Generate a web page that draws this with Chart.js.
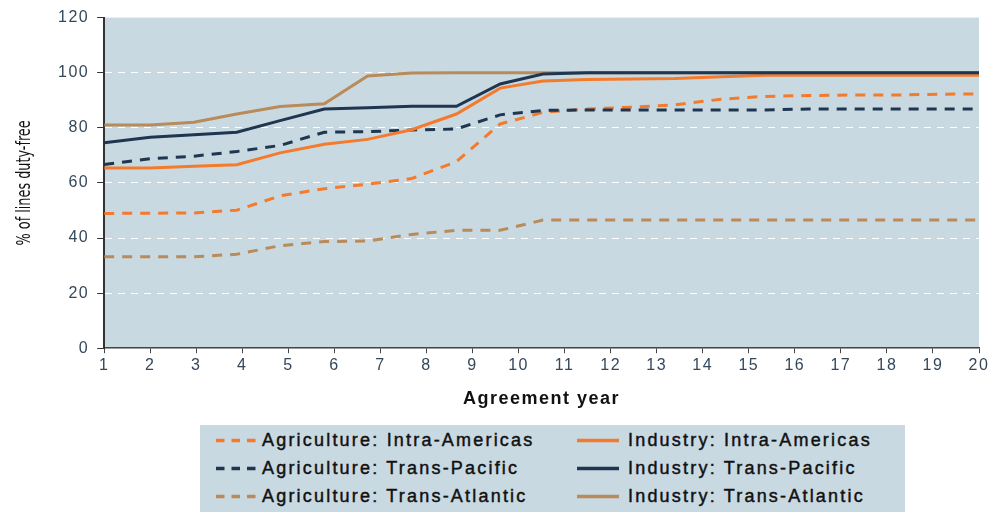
<!DOCTYPE html>
<html>
<head>
<meta charset="utf-8">
<script src="https://cdn.jsdelivr.net/npm/chart.js@4"></script>
<style>
  html, body { margin: 0; padding: 0; background: #fff; }
  #wrap { position: relative; width: 995px; height: 512px; overflow: hidden; }
  #chart { position: absolute; left: 0; top: 0; }
  #legend {
    position: absolute; left: 200px; top: 425px; width: 705px; height: 87px;
    background: #c9d9e1; font-family: 'Liberation Sans', Arial, sans-serif;
    font-size: 18px; color: #111; letter-spacing: 2.2px;
    -webkit-text-stroke: 0.45px #111;
  }
  .item { position: absolute; height: 22px; line-height: 22px; white-space: nowrap; }
  .item svg { position: absolute; left: 0; top: 9px; }
  .item span { position: absolute; top: 0; }
</style>
</head>
<body>
<div id="wrap">
  <canvas id="chart" width="995" height="420"></canvas>
  <div id="legend"></div>
</div>
<script>
// x positions of the points (agreement year)
const years = [1, 2, 2.95, 3.88, 4.82, 5.78, 6.72, 7.68, 8.65, 9.6, 10.53, 11.5, 12.45, 13.4, 14.4, 15.35, 16.3, 17.3, 18.2, 19.2, 20];

// % of lines duty-free
const agriIntraAmericas = [48.9, 49, 49.1, 50.1, 55.3, 57.9, 59.5, 61.6, 67.7, 81.4, 85.6, 86.8, 87.5, 88.3, 90.4, 91.4, 91.7, 91.9, 91.9, 92.2, 92.3];
const agriTransPacific  = [66.7, 68.8, 69.7, 71.4, 73.6, 78.4, 78.6, 79.2, 79.6, 84.7, 86.3, 86.5, 86.5, 86.5, 86.5, 86.5, 86.8, 86.8, 86.8, 86.8, 86.8];
const agriTransAtlantic = [33.2, 33.2, 33.2, 34.1, 37.2, 38.7, 38.9, 41.3, 42.8, 42.8, 46.5, 46.5, 46.5, 46.5, 46.5, 46.5, 46.5, 46.5, 46.5, 46.5, 46.5];
const indIntraAmericas  = [65.4, 65.4, 66, 66.6, 70.9, 74, 75.8, 79.3, 85, 94.4, 97, 97.5, 97.7, 97.9, 98.5, 99.1, 99.1, 99.1, 99.1, 99.1, 99.1];
const indTransPacific   = [74.6, 76.6, 77.5, 78.4, 82.6, 86.8, 87.3, 87.8, 87.8, 95.9, 99.5, 100, 100, 100, 100, 100, 100, 100, 100, 100, 100];
const indTransAtlantic  = [81, 81, 82, 85, 87.7, 88.7, 98.8, 99.9, 100, 100, 100, 100, 100, 100, 100, 100, 100, 100, 100, 100, 100];

const yTicks = [0, 20, 40, 60, 80, 100, 120];
const yTitle = '% of lines duty-free';

const ORANGE = '#f47a2c';
const NAVY = '#1e3650';
const TAN = '#b98b5b';
const BG = '#c9d9e1';
const TICK_TEXT = '#34485c';
const DASH = [10, 8];

const series = [
  { label: 'Agriculture: Intra-Americas', data: agriIntraAmericas, color: ORANGE, dash: true },
  { label: 'Industry: Intra-Americas', data: indIntraAmericas, color: ORANGE, dash: false },
  { label: 'Agriculture: Trans-Pacific', data: agriTransPacific, color: NAVY, dash: true },
  { label: 'Industry: Trans-Pacific', data: indTransPacific, color: NAVY, dash: false },
  { label: 'Agriculture: Trans-Atlantic', data: agriTransAtlantic, color: TAN, dash: true },
  { label: 'Industry: Trans-Atlantic', data: indTransAtlantic, color: TAN, dash: false }
];

// draw order: agriculture below, industry on top (tan under navy)
const drawOrder = [0, 2, 4, 1, 5, 3];

// wide-spaced labels like the original
const spacing = {
  id: 'spacing',
  beforeUpdate(chart) { chart.ctx.letterSpacing = '1.5px'; },
  beforeDraw(chart) { chart.ctx.letterSpacing = '1.5px'; }
};

const plotBg = {
  id: 'plotBg',
  beforeDraw(chart) {
    const { ctx, chartArea: a } = chart;
    ctx.save();
    ctx.fillStyle = BG;
    ctx.fillRect(a.left, a.top, a.right - a.left, a.bottom - a.top);
    ctx.restore();
  }
};

// condensed, rotated y-axis title
const yTitlePlugin = {
  id: 'yTitle',
  afterDraw(chart) {
    const { ctx, chartArea: a } = chart;
    ctx.save();
    ctx.letterSpacing = '0px';
    ctx.translate(25, (a.top + a.bottom) / 2);
    ctx.rotate(-Math.PI / 2);
    ctx.scale(0.75, 1);
    ctx.font = "19px 'DejaVu Sans Condensed', 'Liberation Sans', sans-serif";
    ctx.fillStyle = '#111';
    ctx.textAlign = 'center';
    ctx.textBaseline = 'middle';
    ctx.fillText(yTitle, 0, 0);
    ctx.restore();
  }
};

new Chart(document.getElementById('chart'), {
  type: 'line',
  data: {
    datasets: drawOrder.map(i => {
      const s = series[i];
      return {
        label: s.label,
        data: s.data.map((v, k) => ({ x: years[k], y: v })),
        borderColor: s.color,
        backgroundColor: s.color,
        borderWidth: 3,
        borderDash: s.dash ? DASH : [],
        pointRadius: 0,
        tension: 0,
        order: drawOrder.length - drawOrder.indexOf(i)
      };
    })
  },
  options: {
    responsive: false,
    animation: false,
    layout: { padding: { left: 50, right: 16, top: 8, bottom: 10 } },
    plugins: { legend: { display: false }, tooltip: { enabled: false } },
    scales: {
      x: {
        type: 'linear',
        min: 1,
        max: 20,
        ticks: {
          stepSize: 1,
          color: TICK_TEXT,
          font: { family: "'Liberation Sans', Arial, sans-serif", size: 16 },
          padding: 3,
          maxRotation: 0
        },
        grid: { drawOnChartArea: false, color: '#444', tickColor: '#444', tickLength: 5 },
        border: { color: '#444', width: 1.5 },
        title: {
          display: true,
          text: 'Agreement year',
          color: '#111',
          font: { family: "'Liberation Sans', Arial, sans-serif", size: 18, weight: 'bold' },
          padding: { top: 10, bottom: 0 }
        }
      },
      y: {
        min: 0,
        max: 120,
        afterBuildTicks(axis) { axis.ticks = yTicks.map(v => ({ value: v })); },
        ticks: {
          color: TICK_TEXT,
          font: { family: "'Liberation Sans', Arial, sans-serif", size: 16 },
          padding: 8
        },
        grid: {
          color: c => (c.tick && c.tick.value > 0 && c.tick.value < 120) ? '#ffffff' : 'rgba(0,0,0,0)',
          tickColor: '#333',
          tickLength: 7,
          lineWidth: 1
        },
        border: { color: '#333', width: 2, dash: [7, 6] }
      }
    }
  },
  plugins: [spacing, plotBg, yTitlePlugin]
});

// legend (two columns)
const legend = document.getElementById('legend');
const rowsY = [4, 32, 60];
series.forEach((s, i) => {
  const col = i % 2, row = Math.floor(i / 2);
  const item = document.createElement('div');
  item.className = 'item';
  item.style.left = (col === 0 ? 16 : 377) + 'px';
  item.style.top = rowsY[row] + 'px';
  const w = col === 0 ? 41 : 42;
  item.innerHTML =
    `<svg width="${w}" height="5"><line x1="0" y1="2.5" x2="${w}" y2="2.5" stroke="${s.color}" stroke-width="3.5"` +
    (s.dash ? ' stroke-dasharray="8.5,7"' : '') + `/></svg>` +
    `<span style="left:${col === 0 ? 46 : 51}px">${s.label}</span>`;
  legend.appendChild(item);
});
</script>
</body>
</html>
